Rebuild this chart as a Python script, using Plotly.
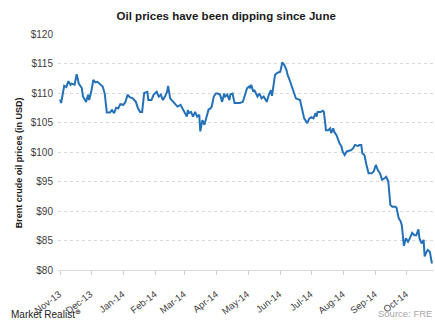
import plotly.graph_objects as go

dates = [
    "2013-11-01", "2013-11-02", "2013-11-05", "2013-11-07", "2013-11-09", "2013-11-11", "2013-11-12",
    "2013-11-15", "2013-11-17", "2013-11-19", "2013-11-22", "2013-11-23", "2013-11-26", "2013-11-28",
    "2013-11-29",
    "2013-12-01", "2013-12-03", "2013-12-05", "2013-12-07", "2013-12-09", "2013-12-12", "2013-12-14",
    "2013-12-16", "2013-12-19", "2013-12-21", "2013-12-23", "2013-12-25", "2013-12-27", "2013-12-29",
    "2014-01-01", "2014-01-03", "2014-01-05", "2014-01-07", "2014-01-10", "2014-01-13", "2014-01-15",
    "2014-01-17", "2014-01-19", "2014-01-21", "2014-01-24", "2014-01-25", "2014-01-28", "2014-01-30",
    "2014-02-02", "2014-02-04", "2014-02-06", "2014-02-08", "2014-02-10", "2014-02-12", "2014-02-13",
    "2014-02-15", "2014-02-18", "2014-02-20", "2014-02-22", "2014-02-25", "2014-02-27",
    "2014-03-01", "2014-03-03", "2014-03-04", "2014-03-05", "2014-03-07", "2014-03-09", "2014-03-11",
    "2014-03-13", "2014-03-15", "2014-03-16", "2014-03-18", "2014-03-20", "2014-03-21", "2014-03-24",
    "2014-03-26", "2014-03-27", "2014-03-29", "2014-03-31",
    "2014-04-02", "2014-04-04", "2014-04-06", "2014-04-08", "2014-04-09", "2014-04-11", "2014-04-13",
    "2014-04-14", "2014-04-16", "2014-04-18", "2014-04-20", "2014-04-23", "2014-04-26", "2014-04-28",
    "2014-04-30",
    "2014-05-02", "2014-05-03", "2014-05-04", "2014-05-06", "2014-05-07", "2014-05-09", "2014-05-10",
    "2014-05-12", "2014-05-14", "2014-05-16", "2014-05-18", "2014-05-19", "2014-05-21", "2014-05-23",
    "2014-05-24", "2014-05-26", "2014-05-27", "2014-05-29",
    "2014-06-01", "2014-06-03", "2014-06-05", "2014-06-07", "2014-06-08", "2014-06-10", "2014-06-13",
    "2014-06-16", "2014-06-20", "2014-06-22", "2014-06-24", "2014-06-27", "2014-06-29",
    "2014-07-01", "2014-07-03", "2014-07-05", "2014-07-06", "2014-07-07", "2014-07-10", "2014-07-12",
    "2014-07-13", "2014-07-15", "2014-07-17", "2014-07-19", "2014-07-20", "2014-07-22", "2014-07-23",
    "2014-07-25", "2014-07-26", "2014-07-28", "2014-07-30", "2014-07-31",
    "2014-08-02", "2014-08-04", "2014-08-08", "2014-08-10", "2014-08-12", "2014-08-15", "2014-08-16",
    "2014-08-18", "2014-08-19", "2014-08-21", "2014-08-23", "2014-08-25", "2014-08-28", "2014-08-30",
    "2014-09-01", "2014-09-03", "2014-09-05", "2014-09-07", "2014-09-09", "2014-09-11", "2014-09-13",
    "2014-09-14", "2014-09-15", "2014-09-17", "2014-09-20", "2014-09-21", "2014-09-23", "2014-09-25",
    "2014-09-26", "2014-09-28", "2014-09-30",
    "2014-10-02", "2014-10-03", "2014-10-06", "2014-10-08", "2014-10-10", "2014-10-12", "2014-10-13",
    "2014-10-15", "2014-10-17", "2014-10-18", "2014-10-20", "2014-10-21", "2014-10-23", "2014-10-25",
]

brent_prices = [
    108.9, 108.3, 111.2, 111.0, 112.0, 111.4, 111.6,
    111.4, 113.2, 111.6, 110.8, 109.4, 108.5, 109.7,
    108.8,
    110.2, 112.2, 111.8, 111.9, 111.6, 111.1, 109.9,
    106.7, 106.7, 107.1, 106.6, 107.5, 107.4, 108.1,
    108.0, 108.5, 109.7, 109.3, 109.1, 108.5, 107.4,
    106.8, 106.8, 110.0, 110.2, 108.8, 108.8, 109.7,
    110.2, 109.4, 109.7, 108.8, 109.4, 110.2, 111.2,
    109.1, 108.5, 108.0, 107.7, 108.0, 107.4,
    106.8, 106.0, 107.1, 106.6, 106.8, 106.0, 106.8,
    106.0, 106.3, 103.5, 105.4, 104.6, 105.3, 107.2,
    107.4, 107.7, 109.4, 109.9,
    109.9, 109.7, 108.5, 109.9, 109.4, 109.7, 108.8,
    109.8, 109.9, 108.3, 108.3, 108.3, 108.5, 109.9,
    110.8,
    111.1, 110.8, 111.4, 110.2, 110.5, 109.9, 109.4,
    109.9, 109.1, 109.4, 108.8, 108.5, 109.7, 110.5,
    109.5, 111.6, 113.1, 113.4,
    113.6, 115.2, 114.7, 113.9, 113.1, 112.2, 110.8,
    109.1, 108.8, 107.1, 105.7, 104.9, 105.7,
    105.9, 105.7, 106.6, 106.0, 106.8, 106.8, 107.0,
    106.8, 103.7, 103.7, 104.0, 103.2, 104.0, 103.4,
    102.9, 102.3, 101.5, 100.9, 100.1,
    99.5, 100.1, 100.3, 100.6, 101.2, 101.0, 101.2,
    101.2, 99.8, 99.5, 97.8, 96.4, 96.4, 96.7,
    97.8, 96.9, 96.4, 95.3, 95.5, 95.8, 95.0,
    93.3, 91.0, 90.7, 90.7, 90.5, 88.8, 88.2,
    87.6, 84.1, 85.4,
    84.8, 85.1, 86.3, 85.9, 85.9, 86.9, 85.4,
    84.5, 85.1, 82.3, 83.1, 83.4, 83.1, 81.1,
]

month_ticks = ["2013-11-01", "2013-12-01", "2014-01-01", "2014-02-01", "2014-03-01", "2014-04-01",
               "2014-05-01", "2014-06-01", "2014-07-01", "2014-08-01", "2014-09-01", "2014-10-01"]
month_labels = ["Nov-13", "Dec-13", "Jan-14", "Feb-14", "Mar-14", "Apr-14",
                "May-14", "Jun-14", "Jul-14", "Aug-14", "Sep-14", "Oct-14"]
y_ticks = [80, 85, 90, 95, 100, 105, 110, 115, 120]

fig = go.Figure()
fig.add_trace(go.Scatter(
    x=dates, y=brent_prices, mode="lines",
    line=dict(color="#2471b8", width=2),
    hoverinfo="x+y", showlegend=False,
))

fig.update_layout(
    width=435, height=320,
    margin=dict(l=58, r=1, t=34, b=50),
    paper_bgcolor="white", plot_bgcolor="white",
    font=dict(family="Liberation Sans, Arial, sans-serif", size=10, color="#404040"),
    title=dict(text="<b>Oil prices have been dipping since June</b>",
               x=0.52, xanchor="center", y=0.95, yanchor="middle",
               font=dict(size=11.5, color="#1a1a1a")),
    showlegend=False,
)

fig.update_xaxes(
    type="date",
    range=["2013-10-30", "2014-10-27"],
    tickmode="array", tickvals=month_ticks, ticktext=month_labels,
    tickangle=-38,
    ticks="outside", ticklen=4, tickcolor="#d0d0d0",
    showline=True, linecolor="#d9d9d9", linewidth=1,
    showgrid=False, zeroline=False,
    tickfont=dict(size=9.5, color="#404040"),
    ticklabelstandoff=10, ticklabelshift=-1,
    ticklabeloverflow="allow",
    automargin=False,
)

fig.update_yaxes(
    range=[80, 120],
    tickmode="array", tickvals=y_ticks, ticktext=["$" + str(v) for v in y_ticks],
    showgrid=True, gridcolor="#d9d9d9", griddash="dot", gridwidth=1,
    zeroline=False, showline=False, ticks="",
    ticklabelstandoff=4,
    tickfont=dict(size=10, color="#404040"),
    automargin=False,
)

fig.add_annotation(
    text="<b>Brent crude oil prices (in USD)</b>",
    xref="paper", yref="paper", x=-0.105, y=0.455,
    xanchor="center", yanchor="middle", textangle=-90, showarrow=False,
    font=dict(size=9, color="#1a1a1a"),
)

fig.add_annotation(
    text="Market Realist<sup>⊕</sup>",
    xref="paper", yref="paper", x=-0.13, y=-0.185,
    xanchor="left", yanchor="middle", showarrow=False,
    font=dict(size=10, color="#222222"),
)

fig.add_annotation(
    text="Source: FRE",
    xref="paper", yref="paper", x=1.0, y=-0.185,
    xanchor="right", yanchor="middle", showarrow=False,
    font=dict(size=9.5, color="#a6a6a6"),
)

fig.write_html(
    "out.html",
    config={"displayModeBar": False},
    post_script="document.body.style.margin='0';document.body.style.padding='0';document.body.style.overflow='hidden';",
)
